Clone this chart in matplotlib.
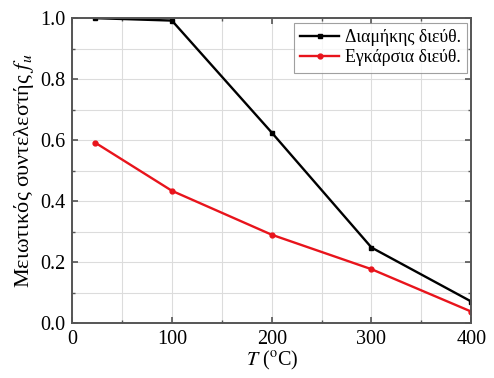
import matplotlib
matplotlib.use("Agg")
import matplotlib.pyplot as plt
from matplotlib.ticker import MultipleLocator, FormatStrFormatter

plt.rcParams["font.family"] = ["Liberation Serif", "DejaVu Serif"]
plt.rcParams["mathtext.fontset"] = "stix"

# data
T = [23, 100, 200, 300, 400]
f_long = [1.0, 0.992, 0.625, 0.248, 0.071]
f_trans = [0.592, 0.434, 0.29, 0.177, 0.038]
labels = ["Διαμήκης διεύθ.", "Εγκάρσια διεύθ."]

fig = plt.figure(figsize=(4.94, 3.78), dpi=100)
ax = fig.add_axes([0.146, 0.145, 0.808, 0.807])

ax.plot(T, f_long, color="black", lw=1.7, marker="s", ms=3.5, label=labels[0])
ax.plot(T, f_trans, color="#e8141c", lw=1.7, marker="o", ms=3.5, label=labels[1])

ax.set_xlim(0, 400)
ax.set_ylim(0, 1.0)
ax.xaxis.set_major_locator(MultipleLocator(100))
ax.xaxis.set_minor_locator(MultipleLocator(50))
ax.yaxis.set_major_locator(MultipleLocator(0.2))
ax.yaxis.set_minor_locator(MultipleLocator(0.1))
ax.yaxis.set_major_formatter(FormatStrFormatter("%.1f"))
ax.grid(which="both", color="#dcdcdc", lw=0.8)
ax.set_axisbelow(True)
ax.tick_params(which="both", direction="in", top=True, right=True,
               labelsize=14.5, color="#555555", pad=5)
ax.tick_params(which="major", length=4, width=1.2)
ax.tick_params(which="minor", length=2.5, width=1.0)
for sp in ax.spines.values():
    sp.set_color("#555555")
    sp.set_linewidth(1.4)

ax.set_xlabel(r"$T$ ($^{\rm o}$C)", fontsize=14.5, labelpad=0)
ax.set_ylabel(r"Μειωτικός συντελεστής $f_u$", fontsize=16, labelpad=3)

leg = ax.legend(loc="upper right", fontsize=12.8, frameon=True, fancybox=False,
                edgecolor="#888888", handlelength=2.2, borderaxespad=0.25,
                handletextpad=0.3, labelspacing=0.2, borderpad=0.35)
leg.get_frame().set_linewidth(0.8)

fig.savefig("out.png", dpi=100)
